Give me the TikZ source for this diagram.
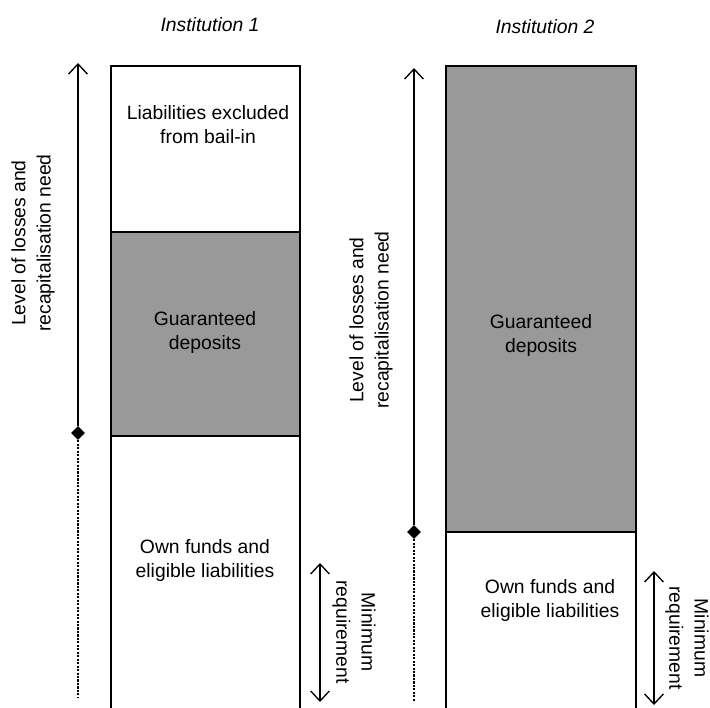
\documentclass[tikz,border=0pt]{standalone}
\usepackage{fontspec}
\setmainfont{Liberation Sans}
\usetikzlibrary{positioning}
\usetikzlibrary{arrows.meta}
\usetikzlibrary{shapes.geometric}
\definecolor{depositColor}{RGB}{153,153,153}

\begin{document}
\begin{tikzpicture}[x=0.75pt,y=-0.75pt]

          \tikzstyle{whiteBox} = [draw, line width=1.2pt, fill=white];
          \tikzstyle{greyBox} = [draw, line width=1.2pt, fill=depositColor];
          \tikzstyle{boxText} = [align=center, font=\fontsize{14.5}{18}\selectfont];
          \tikzstyle{titleText} = [font=\fontsize{14.5}{18}\selectfont\itshape];
          \tikzstyle{levelText} = [align=center, rotate=90, font=\fontsize{14.5}{19}\selectfont];
          \tikzstyle{minText} = [align=center, rotate=-90, font=\fontsize{14.5}{19}\selectfont];
          \tikzstyle{markNode} = [diamond, fill=black, inner sep=0pt, minimum size=10.5pt];

          \tikzstyle{levelEdge} = [line width=1pt, -{Straight Barb[length=7.5pt,width=14pt]}];
          \tikzstyle{belowEdge} = [line width=0.8pt, dash pattern=on 1.6pt off 1pt];
          \tikzstyle{minEdge} = [line width=1pt, {Straight Barb[length=7.5pt,width=14pt]}-{Straight Barb[length=7.5pt,width=14pt]}];

          \useasboundingbox (0,0) rectangle (710,707);

          % institution 1
          \draw[whiteBox] (111,66) rectangle (300,232);
          \draw[greyBox] (111,232) rectangle (300,436);
          \draw[whiteBox] (111,436) rectangle (300,712);

          \node[titleText] (inst1) at (210,25) {Institution 1};
          \node[boxText] (liab1) at (208,125) {Liabilities excluded\\from bail-in};
          \node[boxText] (guar1) at (205,332) {Guaranteed\\deposits};
          \node[boxText] (own1) at (205,560) {Own funds and\\eligible liabilities};
          \node[levelText] (level1) at (33,243) {Level of losses and\\recapitalisation need};
          \node[minText] (min1) at (354,632) {Minimum\\requirement};

          \node[markNode] (mark1) at (78,433) {};
          \coordinate (top1) at (78,63);
          \coordinate (end1) at (78,697);
          \coordinate (minTop1) at (320,563);
          \coordinate (minEnd1) at (320,702);

          \draw[levelEdge] (mark1) -- (top1);
          \draw[belowEdge] (mark1) -- (end1);
          \draw[minEdge] (minTop1) -- (minEnd1);

          % institution 2
          \draw[greyBox] (446,66) rectangle (636,532);
          \draw[whiteBox] (446,532) rectangle (636,712);

          \node[titleText] (inst2) at (545,27) {Institution 2};
          \node[boxText] (guar2) at (541,335) {Guaranteed\\deposits};
          \node[boxText] (own2) at (550,600) {Own funds and\\eligible liabilities};
          \node[levelText] (level2) at (371,320) {Level of losses and\\recapitalisation need};
          \node[minText] (min2) at (687,638) {Minimum\\requirement};

          \node[markNode] (mark2) at (414,532) {};
          \coordinate (top2) at (414,68);
          \coordinate (end2) at (414,702);
          \coordinate (minTop2) at (654,571);
          \coordinate (minEnd2) at (654,705);

          \draw[levelEdge] (mark2) -- (top2);
          \draw[belowEdge] (mark2) -- (end2);
          \draw[minEdge] (minTop2) -- (minEnd2);
        \end{tikzpicture}
\end{document}
